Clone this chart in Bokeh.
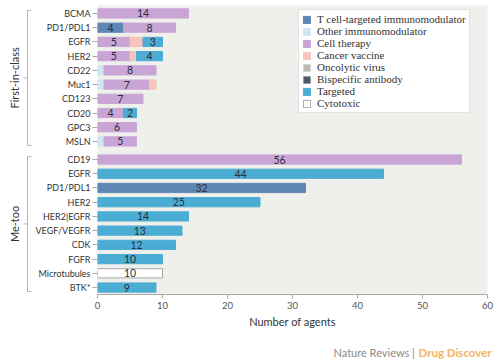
import pandas as pd
from math import pi
from bokeh.plotting import figure
from bokeh.layouts import row, column
from bokeh.models import ColumnDataSource, Legend, LegendItem, Range1d, FixedTicker
from bokeh.core.properties import value
from bokeh.embed import file_html
from bokeh.resources import INLINE

# ---------------- data ----------------
groups = ["First-in-class", "Me-too"]
first_targets = ["BCMA", "PD1/PDL1", "EGFR", "HER2", "CD22", "Muc1", "CD123", "CD20", "GPC3", "MSLN"]
metoo_targets = ["CD19", "EGFR", "PD1/PDL1", "HER2", "HER2|EGFR", "VEGF/VEGFR", "CDK", "FGFR", "Microtubules", "BTK*"]
categories = ["T cell-targeted immunomodulator", "Other immunomodulator", "Cell therapy", "Cancer vaccine",
              "Oncolytic virus", "Bispecific antibody", "Targeted", "Cytotoxic"]
colors = ["#5f87b6", "#cfe6f5", "#c9a5d6", "#f6c4bd", "#b9bdb0", "#4b5968", "#4badd4", "#ffffff"]

#                first-in-class rows               | me-too rows
t_cell     = [0, 4, 0, 0, 0, 0, 0, 0, 0, 0,   0, 0, 32, 0, 0, 0, 0, 0, 0, 0]
other_imm  = [0, 0, 0, 0, 1, 1, 0, 0, 0, 1,   0, 0, 0, 0, 0, 0, 0, 0, 0, 0]
cell_ther  = [14, 8, 5, 5, 8, 7, 7, 4, 6, 5,  56, 0, 0, 0, 0, 0, 0, 0, 0, 0]
vaccine    = [0, 0, 2, 1, 0, 1, 0, 0, 0, 0,   0, 0, 0, 0, 0, 0, 0, 0, 0, 0]
oncolytic  = [0, 0, 0, 0, 0, 0, 0, 0, 0, 0,   0, 0, 0, 0, 0, 0, 0, 0, 0, 0]
bispecific = [0, 0, 0, 0, 0, 0, 0, 0, 0, 0,   0, 0, 0, 0, 0, 0, 0, 0, 0, 0]
targeted   = [0, 0, 3, 4, 0, 0, 0, 2, 0, 0,   0, 44, 0, 25, 14, 13, 12, 10, 0, 9]
cytotoxic  = [0, 0, 0, 0, 0, 0, 0, 0, 0, 0,   0, 0, 0, 0, 0, 0, 0, 0, 10, 0]
x_ticks = [0, 10, 20, 30, 40, 50, 60]
credit = ["Nature Reviews |", "Drug Discover"]

series = [t_cell, other_imm, cell_ther, vaccine, oncolytic, bispecific, targeted, cytotoxic]
no_label = {"Other immunomodulator", "Cancer vaccine"}

# ---------------- layout helpers ----------------
ROW = 100
GAP = 27
ypos = [i * ROW for i in range(len(first_targets))] + \
       [len(first_targets) * ROW + GAP + i * ROW for i in range(len(metoo_targets))]
names = first_targets + metoo_targets
yr = Range1d(start=ypos[-1] + 49, end=-56)

H = 336
TOP = 5
BOTTOM = 42
SIDE_W = 32
FONT = "Lato"

# ---------------- main figure ----------------
p = figure(width=500 - SIDE_W, height=H, x_range=Range1d(0, 60), y_range=yr,
           output_backend="svg", toolbar_location=None,
           min_border_left=64, min_border_right=13, min_border_top=TOP, min_border_bottom=BOTTOM)
p.background_fill_color = "#eff0eb"
p.border_fill_color = "white"
p.outline_line_color = None
p.grid.visible = False

df = pd.DataFrame({c: s for c, s in zip(categories, series)})
df["y"] = ypos
cum = pd.Series([0.0] * len(df))
renderers = []
lab_x, lab_y, lab_t = [], [], []
for cat, col in zip(categories, colors):
    vals = df[cat].astype(float)
    left = cum.copy()
    right = cum + vals
    mask = vals > 0
    if mask.any():
        data = dict(y=df["y"][mask].tolist(), left=left[mask].tolist(), right=right[mask].tolist())
        lc = "#a9a9a9" if cat == "Cytotoxic" else col
    else:
        # category with no agents: zero-width placeholder so the legend shows its swatch
        data = dict(y=[ypos[0]], left=[0.0], right=[0.0])
        lc = None
    src = ColumnDataSource(data)
    r = p.hbar(y="y", left="left", right="right", height=65, source=src,
               fill_color=col, line_color=lc, line_width=1)
    renderers.append(r)
    for i in range(len(df)):
        if vals[i] >= 2 and cat not in no_label:
            lab_x.append(left[i] + vals[i] / 2)
            lab_y.append(ypos[i])
            lab_t.append(str(int(vals[i])))
    cum = right

p.text(x=lab_x, y=lab_y, text=lab_t, text_align="center", text_baseline="middle",
       text_font=value(FONT), text_font_size="10.5px", text_color="#2d2d3a")

# axes
xa = p.xaxis[0]
xa.ticker = FixedTicker(ticks=x_ticks)
xa.axis_label = "Number of agents"
xa.axis_label_text_font = FONT
xa.axis_label_text_font_style = "normal"
xa.axis_label_text_font_size = "11px"
xa.axis_label_text_color = "#333333"
xa.axis_label_standoff = 3
xa.major_label_text_font = FONT
xa.major_label_text_font_size = "9.5px"
xa.major_label_text_color = "#555555"
xa.axis_line_color = "#aaaaaa"
xa.major_tick_line_color = "#aaaaaa"
xa.major_tick_out = 4
xa.major_tick_in = 0
xa.minor_tick_line_color = None
xa.major_label_standoff = 3

ya = p.yaxis[0]
ya.ticker = FixedTicker(ticks=ypos)
ya.major_label_overrides = {y: n for y, n in zip(ypos, names)}
ya.major_label_text_font = FONT
ya.major_label_text_font_size = "9px"
ya.major_label_text_color = "#333333"
ya.axis_line_color = None
ya.major_tick_line_color = "#aaaaaa"
ya.major_tick_out = 5
ya.major_tick_in = 0
ya.minor_tick_line_color = None
ya.major_label_standoff = 2

# legend
legend = Legend(items=[LegendItem(label=c, renderers=[r]) for c, r in zip(categories, renderers)],
                location=(201, 181), orientation="vertical",
                label_text_font="Liberation Serif", label_text_font_size="11px",
                label_text_color="#333333", label_height=12, label_standoff=6,
                glyph_width=9, glyph_height=9, spacing=0, padding=3, margin=0,
                border_line_color="#c4c4c4", border_line_width=1,
                background_fill_color="white", background_fill_alpha=1.0)
p.add_layout(legend)

# ---------------- side figure with group brackets ----------------
s = figure(width=SIDE_W, height=H, x_range=Range1d(0, SIDE_W), y_range=yr,
           output_backend="svg", toolbar_location=None,
           x_axis_location=None, y_axis_location=None,
           min_border_left=0, min_border_right=0, min_border_top=TOP, min_border_bottom=BOTTOM)
s.grid.visible = False
s.outline_line_color = None
s.background_fill_color = "white"
s.border_fill_color = "white"

n1 = len(first_targets)
spans = [(ypos[0] - 22, ypos[n1 - 1] + 28), (ypos[n1] - 22, ypos[-1] + 28)]
bx0, bx1 = [], []
by0, by1 = [], []
for top, bot in spans:
    mid = (top + bot) / 2
    bx0 += [27, 27, 27, 27]
    bx1 += [27, 31, 31, 23]
    by0 += [top, top, bot, mid]
    by1 += [bot, top, bot, mid]
s.segment(x0=bx0, y0=by0, x1=bx1, y1=by1, line_color="#b5b5b5", line_width=1)
s.text(x=[14, 14], y=[(t + b) / 2 for t, b in spans], text=groups, angle=pi / 2,
       text_align="center", text_baseline="middle", text_font=value(FONT),
       text_font_size="11px", text_color="#333333")

# ---------------- credit line ----------------
c = figure(width=500, height=364 - H, x_range=Range1d(0, 500), y_range=Range1d(0, 364 - H),
           output_backend="svg", toolbar_location=None,
           x_axis_location=None, y_axis_location=None,
           min_border_left=0, min_border_right=0, min_border_top=0, min_border_bottom=0)
c.grid.visible = False
c.outline_line_color = None
c.background_fill_color = "white"
c.border_fill_color = "white"
c.text(x=[333], y=[12], text=[credit[0]], text_align="left", text_baseline="middle",
       text_font=value(FONT), text_font_size="11px", text_color="#8a8a8a")
c.text(x=[418], y=[12], text=[credit[1]], text_align="left", text_baseline="middle",
       text_font=value(FONT), text_font_size="11.5px", text_font_style="bold", text_color="#f2b465")

layout = column(row(s, p), c)
open("out.html", "w").write(file_html(layout, INLINE))
